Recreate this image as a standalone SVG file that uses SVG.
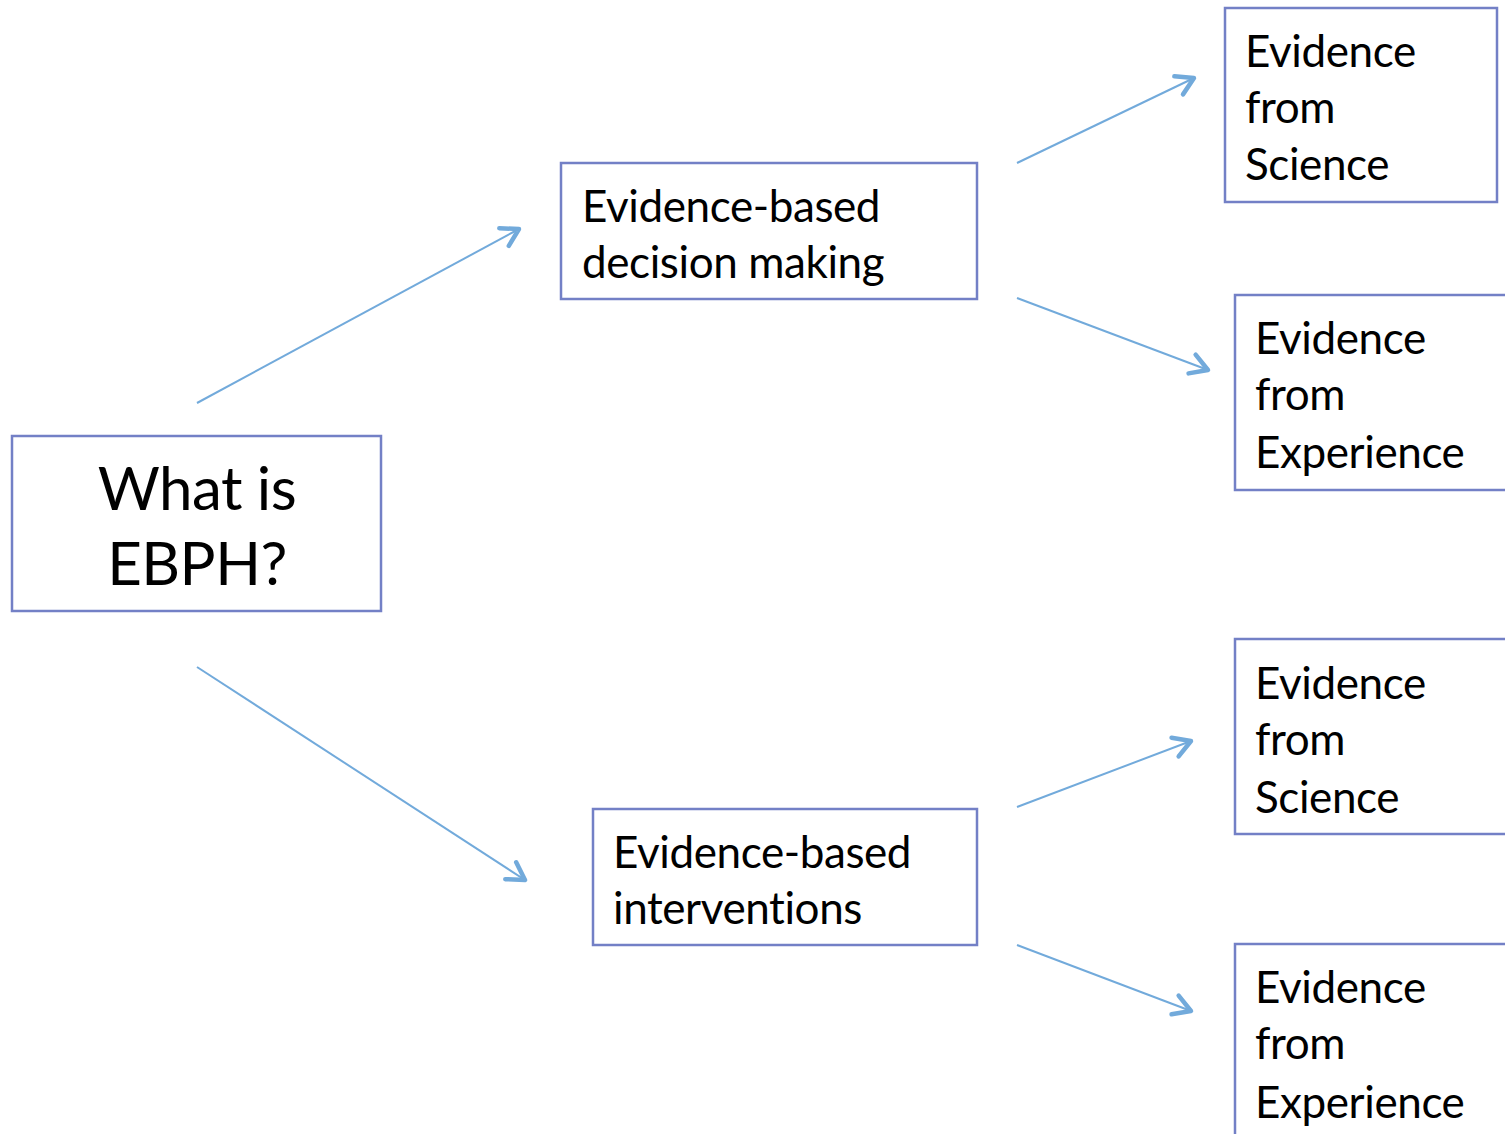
<svg xmlns="http://www.w3.org/2000/svg" width="1505" height="1134" viewBox="0 0 1505 1134">
<style>
.box{fill:#fff;stroke:#7380C6;stroke-width:2.5}
.t{font-family:Lato,"Open Sans","DejaVu Sans",sans-serif;font-size:44px;letter-spacing:-0.4px;fill:#000}
.big{font-size:60px;letter-spacing:-0.5px;text-anchor:middle}
.c{stroke:#72AADB;stroke-width:2;fill:none}
</style>
<defs>
<marker id="ah" markerUnits="userSpaceOnUse" markerWidth="40" markerHeight="40" refX="20" refY="20" orient="auto" viewBox="0 0 40 40">
<path d="M3,10 L20,20 L3,30" fill="none" stroke="#72AADB" stroke-width="4.5" stroke-linecap="round" stroke-linejoin="round"/>
</marker>
</defs>
<rect width="1505" height="1134" fill="#fff"/>
<g id="connectors">
<line class="c" x1="197" y1="403" x2="519" y2="229" marker-end="url(#ah)"/>
<line class="c" x1="197" y1="667" x2="525" y2="880" marker-end="url(#ah)"/>
<line class="c" x1="1017" y1="163" x2="1194" y2="78" marker-end="url(#ah)"/>
<line class="c" x1="1017" y1="298" x2="1208" y2="370" marker-end="url(#ah)"/>
<line class="c" x1="1017" y1="807" x2="1191" y2="741" marker-end="url(#ah)"/>
<line class="c" x1="1017" y1="945" x2="1191" y2="1011" marker-end="url(#ah)"/>
</g>
<g id="node-ebph">
<rect class="box" x="12" y="436" width="369" height="175"/>
<text class="t big" x="197" y="510">What is</text>
<text class="t big" x="197" y="585">EBPH?</text>
</g>
<g id="node-decision">
<rect class="box" x="561" y="163" width="416" height="136"/>
<text class="t" x="582" y="222">Evidence-based</text>
<text class="t" x="582" y="278">decision making</text>
</g>
<g id="node-interventions">
<rect class="box" x="593" y="809" width="384" height="136"/>
<text class="t" x="613" y="868">Evidence-based</text>
<text class="t" x="613" y="924">interventions</text>
</g>
<g id="node-science-1">
<rect class="box" x="1225" y="8" width="272" height="194"/>
<text class="t" x="1245" y="67">Evidence</text>
<text class="t" x="1245" y="123">from</text>
<text class="t" x="1245" y="180">Science</text>
</g>
<g id="node-experience-1">
<rect class="box" x="1235" y="295" width="280" height="195"/>
<text class="t" x="1255" y="354">Evidence</text>
<text class="t" x="1255" y="410">from</text>
<text class="t" x="1255" y="468">Experience</text>
</g>
<g id="node-science-2">
<rect class="box" x="1235" y="639" width="280" height="195"/>
<text class="t" x="1255" y="699">Evidence</text>
<text class="t" x="1255" y="755">from</text>
<text class="t" x="1255" y="813">Science</text>
</g>
<g id="node-experience-2">
<rect class="box" x="1235" y="944" width="280" height="200"/>
<text class="t" x="1255" y="1003">Evidence</text>
<text class="t" x="1255" y="1059">from</text>
<text class="t" x="1255" y="1118">Experience</text>
</g>
</svg>
